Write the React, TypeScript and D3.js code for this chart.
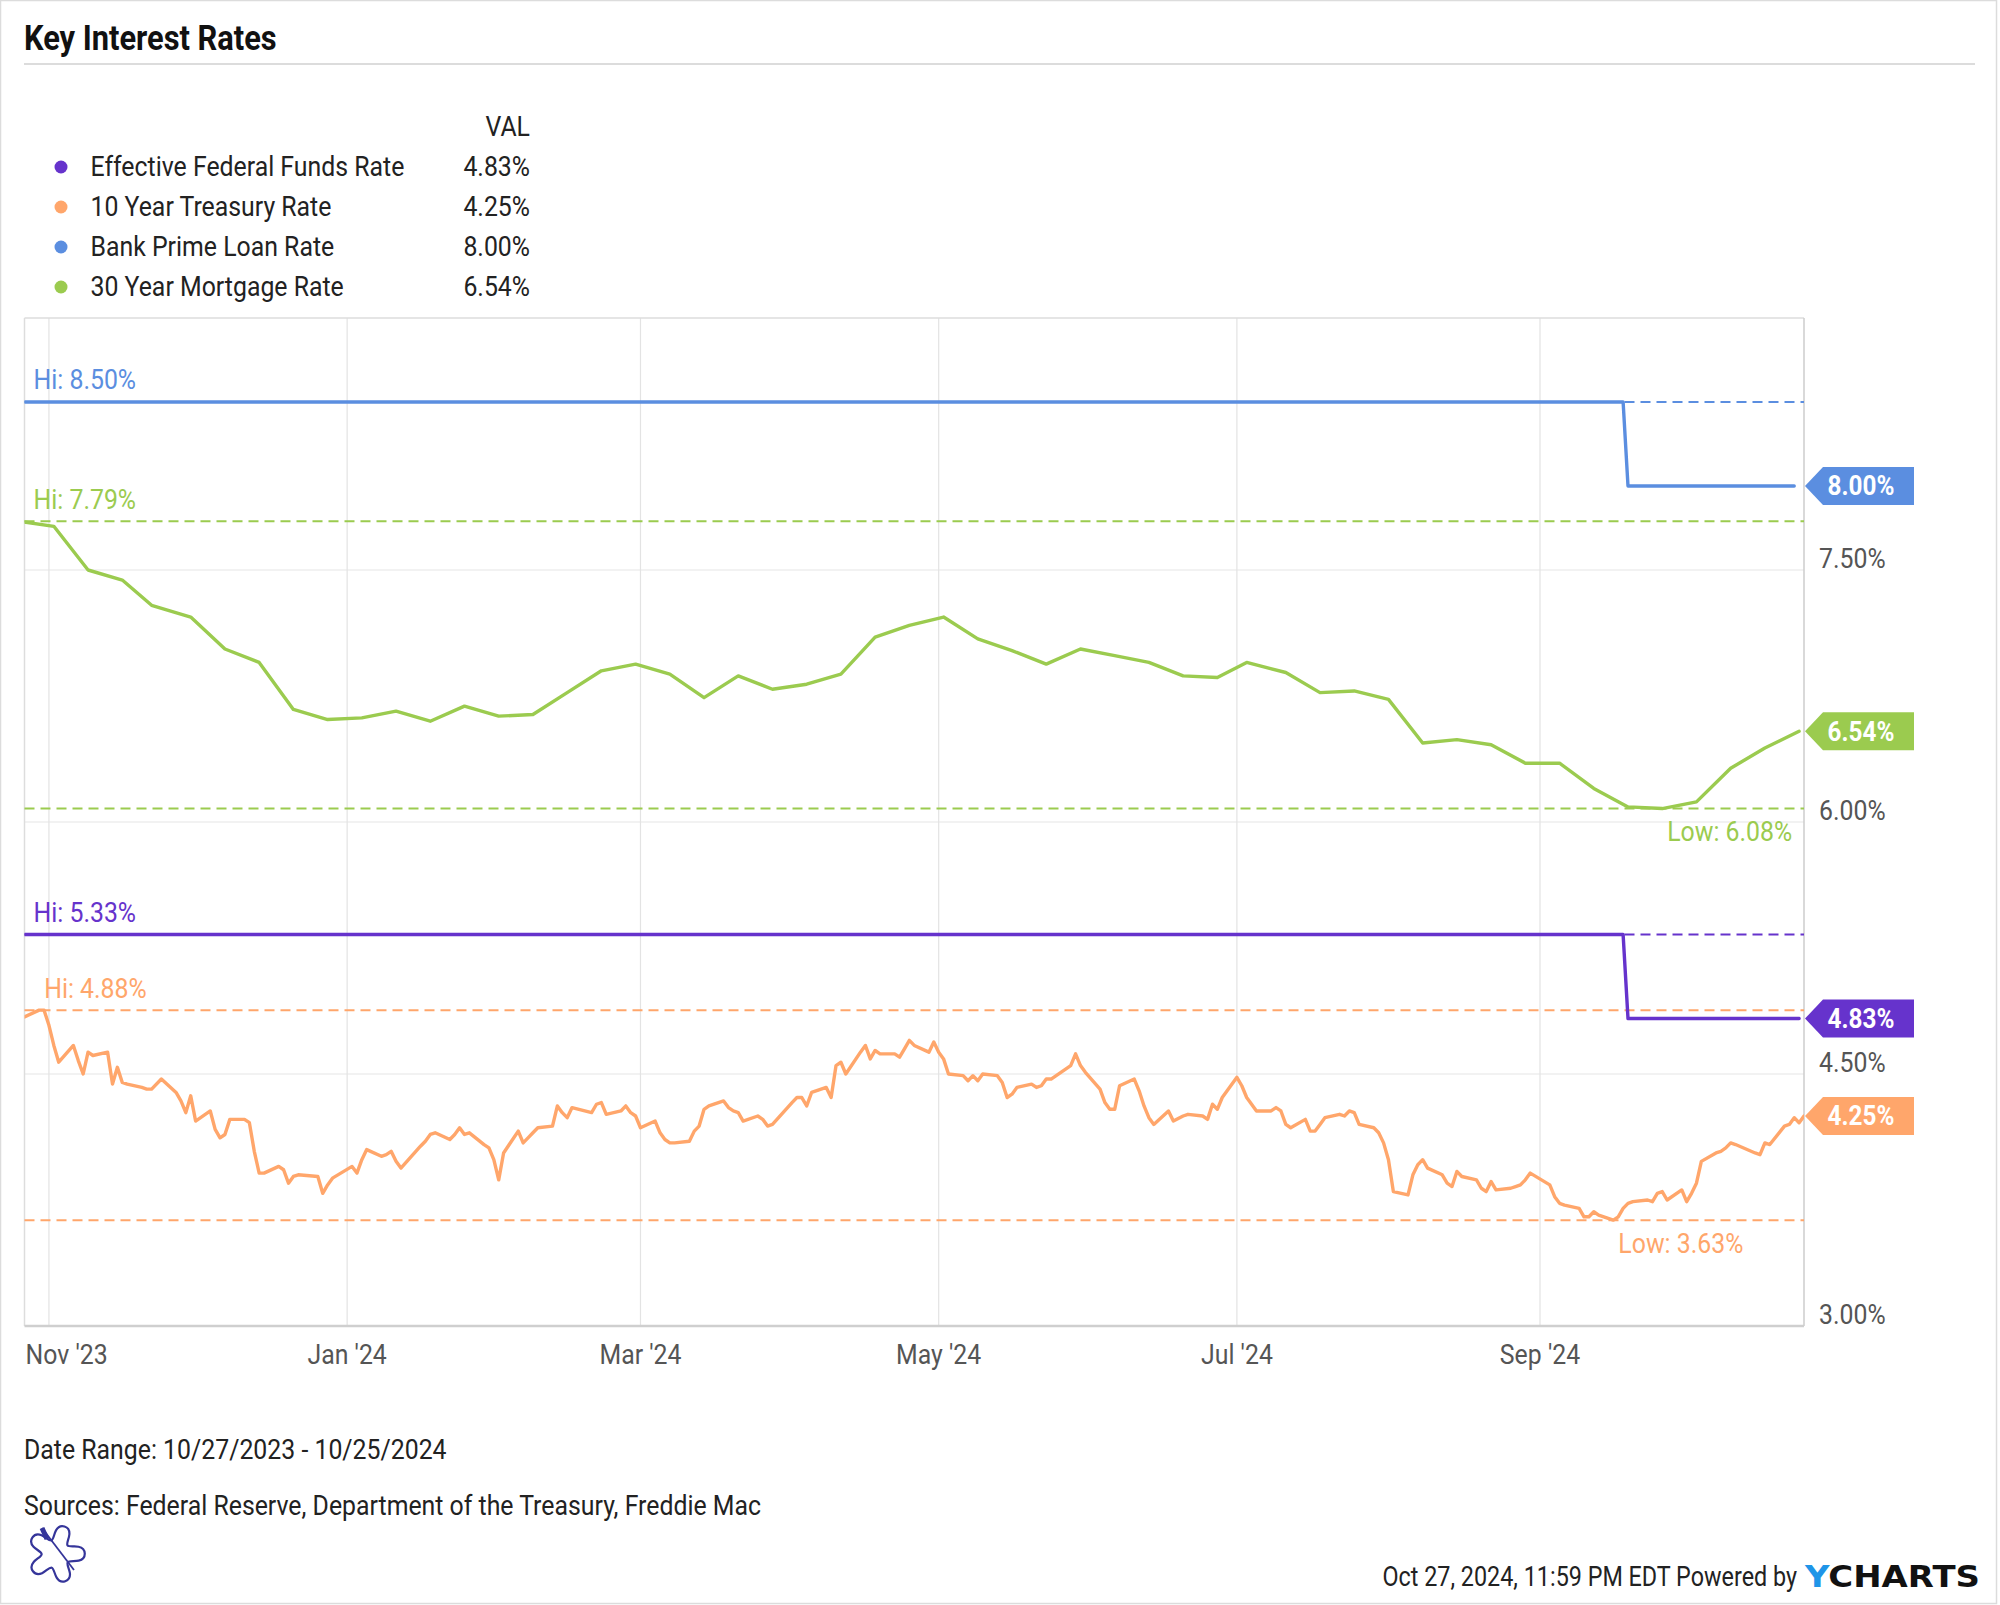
import React from "react";
import * as d3 from "d3";

const W = 2000;
const H = 1605;
const FONT = "Roboto, 'Noto Sans', sans-serif";
const SX = 0.92;

const TITLE = "Key Interest Rates";
const SERIES_NAMES = [
  "Effective Federal Funds Rate",
  "10 Year Treasury Rate",
  "Bank Prime Loan Rate",
  "30 Year Mortgage Rate",
];
const SERIES_COLORS = ["#6633cc", "#ffa66b", "#5b8ee0", "#9bcb4f"];
const LAST_VALUES = [4.83, 4.25, 8.0, 6.54];
const SHOW_LOW = [false, true, false, true];

const Y_TICKS = [3, 4.5, 6, 7.5];
const X_TICKS = ["2023-11-01", "2024-01-01", "2024-03-01", "2024-05-01", "2024-07-01", "2024-09-01"];
const X_TICK_LABELS = ["Nov '23", "Jan '24", "Mar '24", "May '24", "Jul '24", "Sep '24"];
const DATE_START = "2023-10-27";
const DATE_END = "2024-10-25";

const FED_FUNDS: [string, number][] = [
  ["2023-10-27", 5.33], ["2024-09-18", 5.33], ["2024-09-19", 4.83], ["2024-10-24", 4.83],
];

const PRIME: [string, number][] = [
  ["2023-10-27", 8.5], ["2024-09-18", 8.5], ["2024-09-19", 8.0], ["2024-10-23", 8.0],
];

const MORTGAGE_30Y: [string, number][] = [
  ["2023-10-26", 7.79], ["2023-11-02", 7.76], ["2023-11-09", 7.5], ["2023-11-16", 7.44],
  ["2023-11-22", 7.29], ["2023-11-30", 7.22], ["2023-12-07", 7.03], ["2023-12-14", 6.95],
  ["2023-12-21", 6.67], ["2023-12-28", 6.61], ["2024-01-04", 6.62], ["2024-01-11", 6.66],
  ["2024-01-18", 6.6], ["2024-01-25", 6.69], ["2024-02-01", 6.63], ["2024-02-08", 6.64],
  ["2024-02-15", 6.77], ["2024-02-22", 6.9], ["2024-02-29", 6.94], ["2024-03-07", 6.88],
  ["2024-03-14", 6.74], ["2024-03-21", 6.87], ["2024-03-28", 6.79], ["2024-04-04", 6.82],
  ["2024-04-11", 6.88], ["2024-04-18", 7.1], ["2024-04-25", 7.17], ["2024-05-02", 7.22],
  ["2024-05-09", 7.09], ["2024-05-16", 7.02], ["2024-05-23", 6.94], ["2024-05-30", 7.03],
  ["2024-06-06", 6.99], ["2024-06-13", 6.95], ["2024-06-20", 6.87], ["2024-06-27", 6.86],
  ["2024-07-03", 6.95], ["2024-07-11", 6.89], ["2024-07-18", 6.77], ["2024-07-25", 6.78],
  ["2024-08-01", 6.73], ["2024-08-08", 6.47], ["2024-08-15", 6.49], ["2024-08-22", 6.46],
  ["2024-08-29", 6.35], ["2024-09-05", 6.35], ["2024-09-12", 6.2], ["2024-09-19", 6.09],
  ["2024-09-26", 6.08], ["2024-10-03", 6.12], ["2024-10-10", 6.32], ["2024-10-17", 6.44],
  ["2024-10-24", 6.54],
];

const TREASURY_10Y: [string, number][] = [
  ["2023-10-27", 4.84], ["2023-10-30", 4.88], ["2023-10-31", 4.88], ["2023-11-01", 4.79],
  ["2023-11-02", 4.67], ["2023-11-03", 4.57], ["2023-11-06", 4.67], ["2023-11-07", 4.58],
  ["2023-11-08", 4.5], ["2023-11-09", 4.63], ["2023-11-10", 4.61], ["2023-11-13", 4.63],
  ["2023-11-14", 4.44], ["2023-11-15", 4.54], ["2023-11-16", 4.45], ["2023-11-17", 4.44],
  ["2023-11-20", 4.42], ["2023-11-21", 4.41], ["2023-11-22", 4.41], ["2023-11-24", 4.47],
  ["2023-11-27", 4.39], ["2023-11-28", 4.34], ["2023-11-29", 4.27], ["2023-11-30", 4.37],
  ["2023-12-01", 4.22], ["2023-12-04", 4.28], ["2023-12-05", 4.17], ["2023-12-06", 4.12],
  ["2023-12-07", 4.14], ["2023-12-08", 4.23], ["2023-12-11", 4.23], ["2023-12-12", 4.21],
  ["2023-12-13", 4.04], ["2023-12-14", 3.91], ["2023-12-15", 3.91], ["2023-12-18", 3.95],
  ["2023-12-19", 3.93], ["2023-12-20", 3.85], ["2023-12-21", 3.89], ["2023-12-22", 3.9],
  ["2023-12-26", 3.89], ["2023-12-27", 3.79], ["2023-12-28", 3.84], ["2023-12-29", 3.88],
  ["2024-01-02", 3.95], ["2024-01-03", 3.91], ["2024-01-04", 3.99], ["2024-01-05", 4.05],
  ["2024-01-08", 4.01], ["2024-01-09", 4.02], ["2024-01-10", 4.04], ["2024-01-11", 3.98],
  ["2024-01-12", 3.94], ["2024-01-16", 4.07], ["2024-01-17", 4.1], ["2024-01-18", 4.14],
  ["2024-01-19", 4.15], ["2024-01-22", 4.11], ["2024-01-23", 4.14], ["2024-01-24", 4.18],
  ["2024-01-25", 4.14], ["2024-01-26", 4.15], ["2024-01-29", 4.08], ["2024-01-30", 4.06],
  ["2024-01-31", 3.99], ["2024-02-01", 3.87], ["2024-02-02", 4.03], ["2024-02-05", 4.16],
  ["2024-02-06", 4.09], ["2024-02-07", 4.12], ["2024-02-08", 4.15], ["2024-02-09", 4.18],
  ["2024-02-12", 4.19], ["2024-02-13", 4.31], ["2024-02-14", 4.27], ["2024-02-15", 4.24],
  ["2024-02-16", 4.3], ["2024-02-20", 4.27], ["2024-02-21", 4.32], ["2024-02-22", 4.33],
  ["2024-02-23", 4.26], ["2024-02-26", 4.28], ["2024-02-27", 4.31], ["2024-02-28", 4.27],
  ["2024-02-29", 4.25], ["2024-03-01", 4.18], ["2024-03-04", 4.22], ["2024-03-05", 4.15],
  ["2024-03-06", 4.11], ["2024-03-07", 4.09], ["2024-03-08", 4.09], ["2024-03-11", 4.1],
  ["2024-03-12", 4.16], ["2024-03-13", 4.19], ["2024-03-14", 4.29], ["2024-03-15", 4.31],
  ["2024-03-18", 4.34], ["2024-03-19", 4.3], ["2024-03-20", 4.28], ["2024-03-21", 4.27],
  ["2024-03-22", 4.22], ["2024-03-25", 4.25], ["2024-03-26", 4.23], ["2024-03-27", 4.19],
  ["2024-03-28", 4.2], ["2024-04-01", 4.33], ["2024-04-02", 4.36], ["2024-04-03", 4.36],
  ["2024-04-04", 4.31], ["2024-04-05", 4.39], ["2024-04-08", 4.42], ["2024-04-09", 4.36],
  ["2024-04-10", 4.55], ["2024-04-11", 4.57], ["2024-04-12", 4.5], ["2024-04-15", 4.63],
  ["2024-04-16", 4.67], ["2024-04-17", 4.59], ["2024-04-18", 4.64], ["2024-04-19", 4.62],
  ["2024-04-22", 4.62], ["2024-04-23", 4.6], ["2024-04-24", 4.65], ["2024-04-25", 4.7],
  ["2024-04-26", 4.67], ["2024-04-29", 4.63], ["2024-04-30", 4.69], ["2024-05-01", 4.63],
  ["2024-05-02", 4.59], ["2024-05-03", 4.5], ["2024-05-06", 4.49], ["2024-05-07", 4.46],
  ["2024-05-08", 4.49], ["2024-05-09", 4.46], ["2024-05-10", 4.5], ["2024-05-13", 4.49],
  ["2024-05-14", 4.45], ["2024-05-15", 4.36], ["2024-05-16", 4.38], ["2024-05-17", 4.42],
  ["2024-05-20", 4.44], ["2024-05-21", 4.42], ["2024-05-22", 4.43], ["2024-05-23", 4.47],
  ["2024-05-24", 4.47], ["2024-05-28", 4.55], ["2024-05-29", 4.62], ["2024-05-30", 4.55],
  ["2024-05-31", 4.51], ["2024-06-03", 4.41], ["2024-06-04", 4.33], ["2024-06-05", 4.29],
  ["2024-06-06", 4.29], ["2024-06-07", 4.43], ["2024-06-10", 4.47], ["2024-06-11", 4.4],
  ["2024-06-12", 4.31], ["2024-06-13", 4.24], ["2024-06-14", 4.2], ["2024-06-17", 4.28],
  ["2024-06-18", 4.22], ["2024-06-20", 4.25], ["2024-06-21", 4.26], ["2024-06-24", 4.25],
  ["2024-06-25", 4.23], ["2024-06-26", 4.32], ["2024-06-27", 4.29], ["2024-06-28", 4.36],
  ["2024-07-01", 4.48], ["2024-07-02", 4.43], ["2024-07-03", 4.36], ["2024-07-05", 4.28],
  ["2024-07-08", 4.28], ["2024-07-09", 4.3], ["2024-07-10", 4.28], ["2024-07-11", 4.2],
  ["2024-07-12", 4.18], ["2024-07-15", 4.23], ["2024-07-16", 4.16], ["2024-07-17", 4.16],
  ["2024-07-18", 4.2], ["2024-07-19", 4.24], ["2024-07-22", 4.26], ["2024-07-23", 4.25],
  ["2024-07-24", 4.28], ["2024-07-25", 4.27], ["2024-07-26", 4.2], ["2024-07-29", 4.18],
  ["2024-07-30", 4.15], ["2024-07-31", 4.09], ["2024-08-01", 3.99], ["2024-08-02", 3.8],
  ["2024-08-05", 3.78], ["2024-08-06", 3.9], ["2024-08-07", 3.96], ["2024-08-08", 3.99],
  ["2024-08-09", 3.94], ["2024-08-12", 3.9], ["2024-08-13", 3.85], ["2024-08-14", 3.83],
  ["2024-08-15", 3.92], ["2024-08-16", 3.89], ["2024-08-19", 3.87], ["2024-08-20", 3.82],
  ["2024-08-21", 3.8], ["2024-08-22", 3.86], ["2024-08-23", 3.81], ["2024-08-26", 3.82],
  ["2024-08-27", 3.83], ["2024-08-28", 3.84], ["2024-08-29", 3.87], ["2024-08-30", 3.91],
  ["2024-09-03", 3.84], ["2024-09-04", 3.77], ["2024-09-05", 3.73], ["2024-09-06", 3.72],
  ["2024-09-09", 3.7], ["2024-09-10", 3.65], ["2024-09-11", 3.65], ["2024-09-12", 3.68],
  ["2024-09-13", 3.66], ["2024-09-16", 3.63], ["2024-09-17", 3.65], ["2024-09-18", 3.7],
  ["2024-09-19", 3.73], ["2024-09-20", 3.74], ["2024-09-23", 3.75], ["2024-09-24", 3.74],
  ["2024-09-25", 3.79], ["2024-09-26", 3.8], ["2024-09-27", 3.75], ["2024-09-30", 3.81],
  ["2024-10-01", 3.74], ["2024-10-02", 3.79], ["2024-10-03", 3.85], ["2024-10-04", 3.98],
  ["2024-10-07", 4.03], ["2024-10-08", 4.04], ["2024-10-09", 4.06], ["2024-10-10", 4.09],
  ["2024-10-11", 4.08], ["2024-10-15", 4.03], ["2024-10-16", 4.02], ["2024-10-17", 4.09],
  ["2024-10-18", 4.08], ["2024-10-21", 4.19], ["2024-10-22", 4.2], ["2024-10-23", 4.24],
  ["2024-10-24", 4.21], ["2024-10-25", 4.25],
];

const SERIES_DATA = [FED_FUNDS, TREASURY_10Y, PRIME, MORTGAGE_30Y];
const DRAW_ORDER = [3, 2, 1, 0];

const FOOTER_RANGE = "Date Range: 10/27/2023 - 10/25/2024";
const FOOTER_SOURCES = "Sources: Federal Reserve, Department of the Treasury, Freddie Mac";
const FOOTER_STAMP = "Oct 27, 2024, 11:59 PM EDT Powered by";

const parse = d3.timeParse("%Y-%m-%d");

type CTProps = {
  x: number; y: number; children: React.ReactNode; size?: number; weight?: number;
  fill?: string; anchor?: "start" | "middle" | "end"; sx?: number;
};
function CT({ x, y, children, size = 27, weight = 400, fill = "#222", anchor = "start", sx = SX }: CTProps) {
  return (
    <text
      transform={`translate(${x},${y}) scale(${sx},1)`}
      fontSize={size}
      fontWeight={weight}
      fill={fill}
      textAnchor={anchor}
      dy="0.35em"
      fontFamily={FONT}
    >
      {children}
    </text>
  );
}

const pct = (v: number) => `${v.toFixed(2)}%`;

export default function App() {
  const left = 24.5, right = 1804, top = 318, bottom = 1326;
  const x = d3.scaleTime().domain([parse(DATE_START)!, parse(DATE_END)!]).range([left, right]);
  const y = d3.scaleLinear().domain([3, 9]).range([bottom, top]);

  const line = d3
    .line<[string, number]>()
    .x((d) => x(parse(d[0])!))
    .y((d) => y(d[1]));

  const tagTip = right + 1;
  const tagRectL = 1823;
  const tagRectR = 1914;
  const tagH = 38;

  // logo flower (decorative)
  const logoPts: [number, number][] = [];
  const nLobes = 5;
  for (let i = 0; i < nLobes; i++) {
    const a = (i / nLobes) * Math.PI * 2 + 0.3;
    logoPts.push([a - 0.62, 9]);
    logoPts.push([a - 0.36, 26]);
    logoPts.push([a, 31]);
    logoPts.push([a + 0.36, 26]);
  }
  const logoPath =
    d3.lineRadial<[number, number]>().angle((d) => d[0]).radius((d) => d[1]).curve(d3.curveBasisClosed)(logoPts) || "";

  return (
    <svg
      width={W}
      height={H}
      viewBox={`0 0 ${W} ${H}`}
      style={{ position: "absolute", left: 0, top: 0, display: "block", background: "#fff" }}
    >
      <defs>
        <clipPath id="plotClip">
          <rect x={left} y={top - 4} width={right - left} height={bottom - top + 4} />
        </clipPath>
      </defs>
      <rect x={0} y={0} width={W} height={H} fill="#fff" />
      <rect x={0.5} y={0.5} width={1996} height={1603} fill="none" stroke="#dcdcdc" strokeWidth={1.5} />

      {/* Title */}
      <CT x={24} y={38} size={35} weight={700} fill="#111" sx={0.88}>{TITLE}</CT>
      <line x1={24} x2={1975} y1={64} y2={64} stroke="#d0d0d0" strokeWidth={1.5} />

      {/* Legend */}
      <CT x={530} y={127} anchor="end">VAL</CT>
      {SERIES_NAMES.map((name, i) => (
        <g key={name}>
          <circle cx={61} cy={167 + i * 40} r={6.5} fill={SERIES_COLORS[i]} />
          <CT x={90.5} y={167 + i * 40}>{name}</CT>
          <CT x={530} y={167 + i * 40} anchor="end">{pct(LAST_VALUES[i])}</CT>
        </g>
      ))}

      {/* Grid */}
      {Y_TICKS.filter((t) => t > 3).map((t) => (
        <line key={`gy${t}`} x1={left} x2={right} y1={y(t)} y2={y(t)} stroke="#e6e6e6" strokeWidth={1.2} />
      ))}
      {X_TICKS.map((t) => (
        <line key={`gx${t}`} x1={x(parse(t)!)} x2={x(parse(t)!)} y1={top} y2={bottom} stroke="#e3e3e3" strokeWidth={1.2} />
      ))}
      <line x1={left} x2={right} y1={top} y2={top} stroke="#dddddd" strokeWidth={1.5} />
      <line x1={left} x2={left} y1={top} y2={bottom} stroke="#dddddd" strokeWidth={1.5} />
      <line x1={right} x2={right} y1={top} y2={bottom} stroke="#cccccc" strokeWidth={1.5} />
      <line x1={left} x2={right} y1={bottom} y2={bottom} stroke="#cfcfcf" strokeWidth={2.5} />

      {/* Y axis labels */}
      {Y_TICKS.map((t) => (
        <CT key={`yl${t}`} x={1819} y={y(t) - 11} fill="#555">{pct(t)}</CT>
      ))}

      {/* X axis labels */}
      {X_TICKS.map((t, i) => {
        const px = x(parse(t)!);
        return i === 0 ? (
          <CT key={`xl${t}`} x={left + 1} y={1355} fill="#555">{X_TICK_LABELS[i]}</CT>
        ) : (
          <CT key={`xl${t}`} x={px} y={1355} fill="#555" anchor="middle">{X_TICK_LABELS[i]}</CT>
        );
      })}

      {/* Hi / Low dashed lines */}
      {SERIES_DATA.map((data, i) => {
        const hi = d3.max(data, (d) => d[1])!;
        const lo = d3.min(data, (d) => d[1])!;
        return (
          <g key={`dash${i}`}>
            <line x1={left} x2={right} y1={y(hi)} y2={y(hi)} stroke={SERIES_COLORS[i]} strokeWidth={2} strokeDasharray="10,6" />
            {SHOW_LOW[i] && (
              <line x1={left} x2={right} y1={y(lo)} y2={y(lo)} stroke={SERIES_COLORS[i]} strokeWidth={2} strokeDasharray="10,6" />
            )}
          </g>
        );
      })}

      {/* Series lines */}
      <g clipPath="url(#plotClip)">
        {DRAW_ORDER.map((i) => (
          <path
            key={`line${i}`}
            d={line(SERIES_DATA[i]) || ""}
            fill="none"
            stroke={SERIES_COLORS[i]}
            strokeWidth={3.4}
            strokeLinejoin="round"
            strokeLinecap="round"
          />
        ))}
      </g>

      {/* Hi / Low labels */}
      {SERIES_DATA.map((data, i) => {
        const hi = d3.max(data, (d) => d[1])!;
        const lo = d3.min(data, (d) => d[1])!;
        const hiPt = data.find((d) => d[1] === hi)!;
        const loPt = data.find((d) => d[1] === lo)!;
        const hx = Math.max(x(parse(hiPt[0])!) + 5, left + 9);
        const lx = x(parse(loPt[0])!) + 5;
        return (
          <g key={`hl${i}`}>
            <CT x={hx} y={y(hi) - 22} fill={SERIES_COLORS[i]}>{`Hi: ${pct(hi)}`}</CT>
            {SHOW_LOW[i] && <CT x={lx} y={y(lo) + 23} fill={SERIES_COLORS[i]}>{`Low: ${pct(lo)}`}</CT>}
          </g>
        );
      })}

      {/* Value tags */}
      {LAST_VALUES.map((v, i) => {
        const cy = y(v);
        const d = `M${tagTip},${cy} L${tagRectL},${cy - tagH / 2} L${tagRectR},${cy - tagH / 2} L${tagRectR},${cy + tagH / 2} L${tagRectL},${cy + tagH / 2} Z`;
        return (
          <g key={`tag${i}`}>
            <path d={d} fill={SERIES_COLORS[i]} />
            <CT x={1861} y={cy} size={27} weight={700} fill="#fff" anchor="middle" sx={0.9}>{pct(v)}</CT>
          </g>
        );
      })}

      {/* Footer */}
      <CT x={24} y={1450}>{FOOTER_RANGE}</CT>
      <CT x={24} y={1506}>{FOOTER_SOURCES}</CT>
      <CT x={1797} y={1577} anchor="end" sx={0.865}>{FOOTER_STAMP}</CT>
      <text
        x={1805}
        y={1587}
        fontFamily="'DejaVu Sans', Verdana, sans-serif"
        fontWeight={700}
        fontSize={30}
        textLength={175}
        lengthAdjust="spacingAndGlyphs"
      >
        <tspan fill="#1f95e8">Y</tspan>
        <tspan fill="#111">CHARTS</tspan>
      </text>

      {/* Logo */}
      <g transform="translate(56,1554)" fill="none" stroke="#35359a" strokeWidth={2.2}>
        <path d={logoPath} />
        <line x1={-14} y1={-26} x2={18} y2={16} strokeWidth={1.8} />
        <line x1={-14} y1={-26} x2={-9} y2={-15} strokeWidth={5} />
      </g>
    </svg>
  );
}
